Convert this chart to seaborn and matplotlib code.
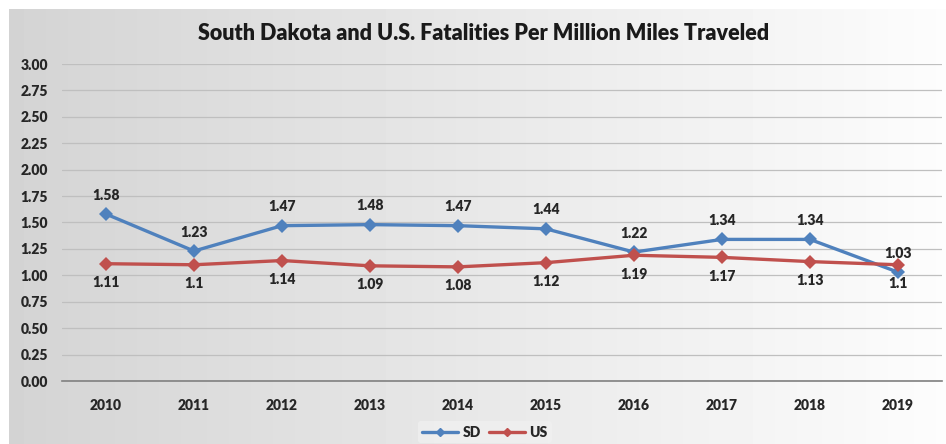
import numpy as np
import pandas as pd
import seaborn as sns
import matplotlib.pyplot as plt

# chart values
years = [2010, 2011, 2012, 2013, 2014, 2015, 2016, 2017, 2018, 2019]
sd_rate = [1.58, 1.23, 1.47, 1.48, 1.47, 1.44, 1.22, 1.34, 1.34, 1.03]
us_rate = [1.11, 1.10, 1.14, 1.09, 1.08, 1.12, 1.19, 1.17, 1.13, 1.10]
sd_labels = ["1.58", "1.23", "1.47", "1.48", "1.47", "1.44", "1.22", "1.34", "1.34", "1.03"]
us_labels = ["1.11", "1.1", "1.14", "1.09", "1.08", "1.12", "1.19", "1.17", "1.13", "1.1"]
y_ticks = [0, 0.25, 0.5, 0.75, 1.0, 1.25, 1.5, 1.75, 2.0, 2.25, 2.5, 2.75, 3.0]

data = pd.DataFrame({
    "pos": list(range(len(years))) * 2,
    "rate": sd_rate + us_rate,
    "series": ["SD"] * len(years) + ["US"] * len(years),
})

sns.set_style("white")
plt.rcParams["font.family"] = ["Lato", "DejaVu Sans"]

fig = plt.figure(figsize=(9.46, 4.44), dpi=100)

# gradient chart background
bg = fig.add_axes([9 / 946, 0, 1 - 9 / 946, 1 - 9 / 444])
grad = np.linspace(0.83, 0.99, 256).reshape(1, -1)
bg.imshow(grad, cmap="gray", vmin=0, vmax=1, aspect="auto", extent=[0, 1, 0, 1])
bg.axis("off")

ax = fig.add_axes([62 / 946, 63 / 444, 880 / 946, 317 / 444])
ax.patch.set_alpha(0)

palette = {"SD": "#4f81bd", "US": "#c0504d"}
sns.lineplot(data=data, x="pos", y="rate", hue="series", palette=palette,
             marker="D", markersize=7, markeredgewidth=0, linewidth=2.4,
             legend=False, ax=ax)

for i in range(len(years)):
    ax.annotate(sd_labels[i], (i, sd_rate[i]), xytext=(0, 9), textcoords="offset points",
                ha="center", va="bottom", fontsize=10, fontweight="heavy", color="#262626")
    ax.annotate(us_labels[i], (i, us_rate[i]), xytext=(0, -9), textcoords="offset points",
                ha="center", va="top", fontsize=10, fontweight="heavy", color="#262626")

ax.set_xlim(-0.5, len(years) - 0.5)
ax.set_ylim(0, 3.0)
ax.set_yticks(y_ticks)
ax.set_yticklabels([f"{v:.2f}" for v in y_ticks], fontsize=10, fontweight="heavy")
ax.set_xticks(range(len(years)))
ax.set_xticklabels([str(y) for y in years], fontsize=10, fontweight="heavy")
ax.tick_params(axis="both", length=0, colors="#262626")
ax.tick_params(axis="x", pad=13)
ax.tick_params(axis="y", pad=10)
ax.yaxis.grid(True, color="#bfbfbf", linewidth=0.9)
ax.set_axisbelow(True)
for s in ["top", "right", "left"]:
    ax.spines[s].set_visible(False)
ax.spines["bottom"].set_color("#808080")
ax.spines["bottom"].set_linewidth(1.2)
ax.set_xlabel("")
ax.set_ylabel("")

fig.text(484 / 946, 1 - 34 / 444, "South Dakota and U.S. Fatalities Per Million Miles Traveled",
         ha="center", va="center", fontsize=15.5, fontweight="heavy", color="#1a1a1a")

handles = [plt.Line2D([], [], color=palette[k], marker="D", markersize=4, linewidth=2.4) for k in ["SD", "US"]]
leg = fig.legend(handles, ["SD", "US"], loc="center", bbox_to_anchor=(485 / 946, 1 - 432 / 444),
                 ncol=2, frameon=True, prop={"weight": "heavy", "size": 10},
                 handlelength=2.6, columnspacing=0.6, handletextpad=0.3, borderpad=0.3)
leg.get_frame().set_facecolor("#f0f0f0")
leg.get_frame().set_edgecolor("none")

fig.savefig("out.png", dpi=100)
